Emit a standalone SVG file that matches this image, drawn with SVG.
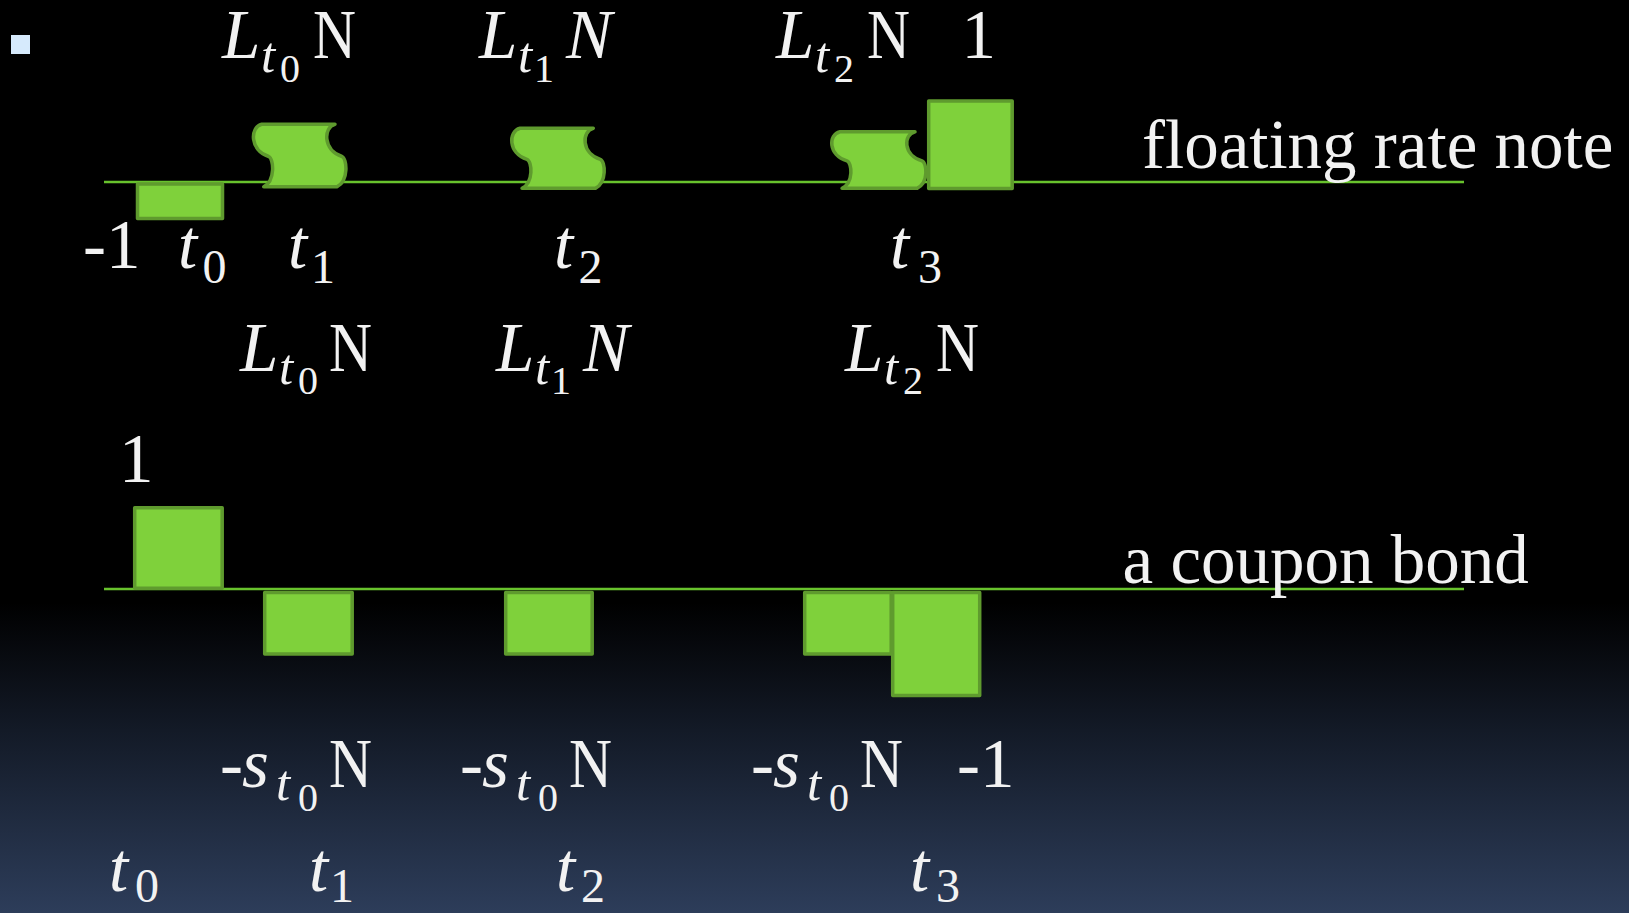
<svg xmlns="http://www.w3.org/2000/svg" width="1629" height="913" viewBox="0 0 1629 913">
  <defs>
    <linearGradient id="bg" x1="0" y1="0" x2="0" y2="913" gradientUnits="userSpaceOnUse">
      <stop offset="0" stop-color="#000000"/>
      <stop offset="0.66" stop-color="#000000"/>
      <stop offset="0.8" stop-color="#131a27"/>
      <stop offset="1" stop-color="#2d3d5a"/>
    </linearGradient>
    <style>
      .shape { fill: #7fd13b; stroke: #5f9b2e; stroke-width: 3.5; stroke-linejoin: round; }
      .axis { stroke: #68c22d; stroke-width: 2.5; fill: none; }
      .t { fill: #f2f2f2; font-family: "Liberation Serif", "Times New Roman", serif; font-size: 69px; }
      .i { font-style: italic; }
      .s1 { font-size: 48px; }
      .st { font-size: 51px; font-style: italic; }
      .s2 { font-size: 40px; }
    </style>
  </defs>

  <rect x="0" y="0" width="1629" height="913" fill="url(#bg)"/>
  <rect id="bullet" x="11" y="35" width="19" height="19" fill="#d6eafc"/>

  <g id="connectors">
    <line class="axis" x1="104" y1="182" x2="1464" y2="182"/>
    <line class="axis" x1="104" y1="589" x2="1464" y2="589"/>
  </g>

  <!-- floating rate note cash flows -->
  <g id="frn-t0">
    <rect class="shape" x="137.5" y="184" width="85" height="34.5"/>
  </g>
  <g id="frn-t1">
    <path class="shape" d="M261.7,124.3 L335,124.3 C323,127.3 323,150.5 342,156.5 C347,158.5 349,180.6 337,186.7 L263.7,186.7 C275.7,180.6 273.7,158.5 268.7,156.5 C249.7,150.5 249.7,127.3 261.7,124.3 Z"/>
  </g>
  <g id="frn-t2">
    <path class="shape" d="M520,128.3 L593.3,128.3 C581.3,131.2 581.3,153.5 600.3,159.3 C605.3,161.2 607.3,182.5 595.3,188.3 L522,188.3 C534,182.5 532,161.2 527,159.3 C508,153.5 508,131.2 520,128.3 Z"/>
  </g>
  <g id="frn-t3">
    <path class="shape" d="M840,131.7 L915,131.7 C903,134.4 903,155.5 922,160.9 C927,162.7 929,182.8 917,188.3 L842,188.3 C854,182.8 852,162.7 847,160.9 C828,155.5 828,134.4 840,131.7 Z"/>
    <rect class="shape" x="928.7" y="101" width="83.5" height="87.5"/>
  </g>

  <!-- coupon bond cash flows -->
  <g id="bond-t0">
    <rect class="shape" x="134.7" y="507.7" width="87.5" height="80.5"/>
  </g>
  <g id="bond-t1">
    <rect class="shape" x="264.7" y="592.4" width="87.5" height="61.5"/>
  </g>
  <g id="bond-t2">
    <rect class="shape" x="505.7" y="592.4" width="86.5" height="61.5"/>
  </g>
  <g id="bond-t3">
    <rect class="shape" x="804.7" y="592.4" width="86.5" height="61.5"/>
    <rect class="shape" x="892.7" y="592.4" width="87" height="103"/>
  </g>

  <!-- top labels -->
  <g id="label-top-1" class="t">
    <text x="222" y="58" class="i">L</text>
    <text x="261" y="72" class="st">t</text>
    <text x="280" y="82" class="s2">0</text>
    <text x="313" y="58" textLength="43" lengthAdjust="spacingAndGlyphs">N</text>
  </g>
  <g id="label-top-2" class="t">
    <text x="479" y="58" class="i">L</text>
    <text x="518" y="72" class="st">t</text>
    <text x="534" y="82" class="s2">1</text>
    <text x="566" y="58" class="i">N</text>
  </g>
  <g id="label-top-3" class="t">
    <text x="776" y="58" class="i">L</text>
    <text x="815" y="72" class="st">t</text>
    <text x="834" y="82" class="s2">2</text>
    <text x="867" y="58" textLength="43" lengthAdjust="spacingAndGlyphs">N</text>
    <text x="961.5" y="58">1</text>
  </g>

  <g id="label-frn" class="t">
    <text x="1142" y="168">floating rate note</text>
  </g>

  <g id="label-time-top" class="t">
    <text x="83" y="268">-1</text>
    <text x="178" y="268" class="i">t</text>
    <text x="202.5" y="283" class="s1">0</text>
    <text x="288" y="268" class="i">t</text>
    <text x="311" y="283" class="s1">1</text>
    <text x="554" y="268" class="i">t</text>
    <text x="578.6" y="283" class="s1">2</text>
    <text x="890" y="268" class="i">t</text>
    <text x="918" y="283" class="s1">3</text>
  </g>

  <!-- middle labels -->
  <g id="label-mid-1" class="t">
    <text x="240" y="371" class="i">L</text>
    <text x="279" y="384" class="st">t</text>
    <text x="298" y="394" class="s2">0</text>
    <text x="329" y="371" textLength="43" lengthAdjust="spacingAndGlyphs">N</text>
  </g>
  <g id="label-mid-2" class="t">
    <text x="496" y="371" class="i">L</text>
    <text x="535" y="384" class="st">t</text>
    <text x="551" y="394" class="s2">1</text>
    <text x="583" y="371" class="i">N</text>
  </g>
  <g id="label-mid-3" class="t">
    <text x="845" y="371" class="i">L</text>
    <text x="884" y="384" class="st">t</text>
    <text x="903" y="394" class="s2">2</text>
    <text x="936" y="371" textLength="43" lengthAdjust="spacingAndGlyphs">N</text>
  </g>

  <g id="label-one" class="t">
    <text x="119" y="482">1</text>
  </g>
  <g id="label-bond" class="t">
    <text x="1122.5" y="583">a coupon bond</text>
  </g>

  <!-- bottom coupon labels -->
  <g id="label-bot-1" class="t">
    <text x="220" y="787">-</text>
    <text x="242" y="787" class="i">s</text>
    <text x="276" y="800" class="st">t</text>
    <text x="298" y="811" class="s2">0</text>
    <text x="329" y="787" textLength="43" lengthAdjust="spacingAndGlyphs">N</text>
  </g>
  <g id="label-bot-2" class="t">
    <text x="460" y="787">-</text>
    <text x="482" y="787" class="i">s</text>
    <text x="516" y="800" class="st">t</text>
    <text x="538" y="811" class="s2">0</text>
    <text x="569" y="787" textLength="43" lengthAdjust="spacingAndGlyphs">N</text>
  </g>
  <g id="label-bot-3" class="t">
    <text x="751" y="787">-</text>
    <text x="773" y="787" class="i">s</text>
    <text x="807" y="800" class="st">t</text>
    <text x="829" y="811" class="s2">0</text>
    <text x="860" y="787" textLength="43" lengthAdjust="spacingAndGlyphs">N</text>
    <text x="957" y="787">-1</text>
  </g>

  <g id="label-time-bottom" class="t">
    <text x="109" y="891" class="i">t</text>
    <text x="135" y="902" class="s1">0</text>
    <text x="309" y="891" class="i">t</text>
    <text x="330" y="902" class="s1">1</text>
    <text x="556" y="891" class="i">t</text>
    <text x="581" y="902" class="s1">2</text>
    <text x="910" y="891" class="i">t</text>
    <text x="936" y="902" class="s1">3</text>
  </g>
</svg>
